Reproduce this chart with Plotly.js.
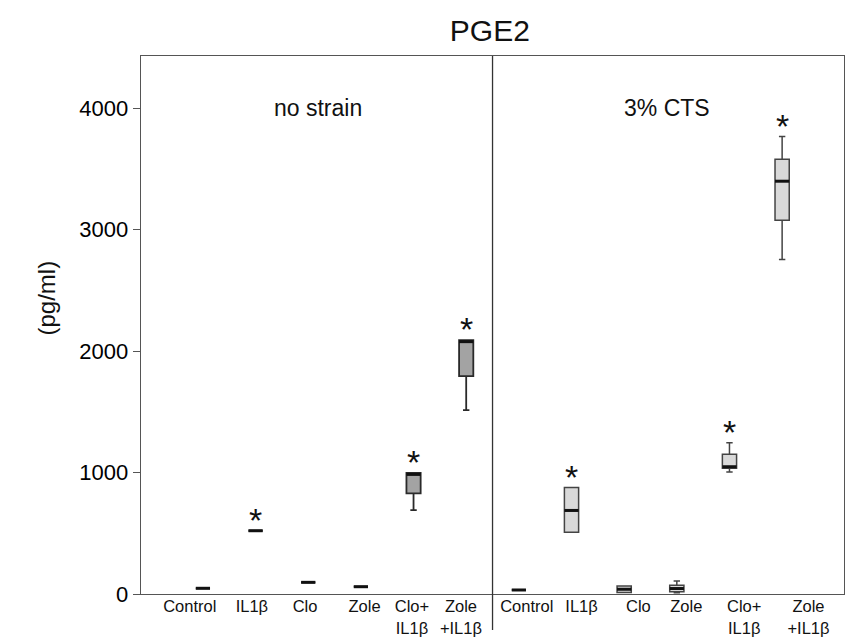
<!DOCTYPE html>
<html>
<head>
<meta charset="utf-8">
<script src="https://cdn.plot.ly/plotly-3.0.1.min.js"></script>
<style>html,body{margin:0;padding:0;background:#fff;}#chart{width:846px;height:640px;}</style>
</head>
<body>
<div id="chart"></div>
<script>
// ---- data ----
const categories = ["Control", "IL1β", "Clo", "Zole", "Clo+<br>IL1β", "Zole<br>+IL1β"];
const panels = ["no strain", "3% CTS"];

// no strain
const nsLower  = [47, 521, 96, 60, 691, 1514];
const nsQ1     = [47, 521, 96, 60, 829, 1794];
const nsMedian = [47, 521, 96, 60, 985, 2078];
const nsQ3     = [47, 521, 96, 60, 998, 2090];
const nsUpper  = [47, 521, 96, 60, 998, 2090];
const nsSig    = [false, true, false, false, true, true];

// 3% CTS
const ctsLower  = [33, 508, 12, 10, 1005, 2755];
const ctsQ1     = [33, 508, 12, 19, 1035, 3078];
const ctsMedian = [33, 688, 39, 45, 1048, 3399];
const ctsQ3     = [33, 876, 66, 72, 1150, 3580];
const ctsUpper  = [33, 876, 66, 107, 1245, 3767];
const ctsSig    = [false, true, false, false, true, true];

const yTicks = [0, 1000, 2000, 3000, 4000];

// ---- layout helpers ----
const nsPos = categories.map((c, i) => i + 1);
const ctsPos = categories.map((c, i) => i + 7);
const boxW = 0.27;
// label positions (slightly offset from boxes as in the original composite)
const labelPos = [0.75, 1.93, 2.94, 4.07, 4.97, 5.90, 7.15, 8.19, 9.27, 10.18, 11.28, 12.50];
const FONT = 'Liberation Sans, Arial, sans-serif';

function boxTrace(pos, lo, q1, med, q3, hi, fill, lc, lw) {
  return {
    type: 'box', x: pos, lowerfence: lo, q1: q1, median: med, q3: q3, upperfence: hi,
    width: boxW, whiskerwidth: 0.45, boxpoints: false,
    fillcolor: fill, line: {color: lc, width: lw},
    hoverinfo: 'skip', showlegend: false
  };
}
function medianTrace(pos, med) {
  const xs = [], ys = [];
  pos.forEach((p, i) => { xs.push(p - boxW / 2, p + boxW / 2, null); ys.push(med[i], med[i], null); });
  return {type: 'scatter', mode: 'lines', x: xs, y: ys, line: {color: '#111', width: 3},
          hoverinfo: 'skip', showlegend: false};
}

const traces = [
  boxTrace(nsPos, nsLower, nsQ1, nsMedian, nsQ3, nsUpper, '#a3a3a3', '#2a2a2a', 1.8),
  boxTrace(ctsPos, ctsLower, ctsQ1, ctsMedian, ctsQ3, ctsUpper, '#d9d9d9', '#444', 1.5),
  medianTrace(nsPos, nsMedian),
  medianTrace(ctsPos, ctsMedian)
];

const annotations = [];
function addStars(pos, hi, sig) {
  pos.forEach((p, i) => {
    if (sig[i]) annotations.push({x: p, y: hi[i], xref: 'x', yref: 'y', text: '*', showarrow: false,
      yanchor: 'bottom', yshift: -10, font: {family: FONT, size: 34, color: '#111'}});
  });
}
addStars(nsPos, nsUpper, nsSig);
addStars(ctsPos, ctsUpper, ctsSig);
annotations.push({x: 3.18, y: 4000, xref: 'x', yref: 'y', text: panels[0], showarrow: false,
  font: {family: FONT, size: 23, color: '#111'}});
annotations.push({x: 9.82, y: 4000, xref: 'x', yref: 'y', text: panels[1], showarrow: false,
  font: {family: FONT, size: 23, color: '#111'}});
// y-axis title
const L = 141, R = 2, T = 56, B = 46, W = 846, H = 640;
annotations.push({x: (30 - L) / (W - L - R), y: (H - B - 298) / (H - T - B), xref: 'paper', yref: 'paper',
  text: '(pg/ml)', showarrow: false, textangle: -90, font: {family: FONT, size: 24, color: '#111'}});

const layout = {
  width: W, height: H,
  margin: {l: L, r: R, t: T, b: B},
  paper_bgcolor: '#fff', plot_bgcolor: '#fff',
  font: {family: FONT, color: '#111'},
  title: {text: 'PGE2', x: 0.579, xanchor: 'center', y: 0.953, yanchor: 'middle',
          font: {family: FONT, size: 30, color: '#111'}},
  xaxis: {
    range: [-0.176, 13.175], tickvals: labelPos, ticktext: categories.concat(categories),
    ticks: '', showgrid: false, zeroline: false, showline: true, mirror: true,
    linecolor: '#555', linewidth: 1.3, tickfont: {size: 16.5, color: '#111'},
    ticklabelstandoff: -3
  },
  yaxis: {
    range: [0, 4430], tickvals: yTicks, ticktext: yTicks.map(String),
    ticks: 'outside', ticklen: 7, tickcolor: '#555', showgrid: false, zeroline: false,
    showline: true, mirror: true, linecolor: '#555', linewidth: 1.3,
    tickfont: {size: 22, color: '#000'}
  },
  shapes: [{type: 'line', xref: 'x', yref: 'paper', x0: 6.5, x1: 6.5, y0: -0.067, y1: 1,
            line: {color: '#333', width: 1.3}}],
  annotations: annotations
};

Plotly.newPlot('chart', traces, layout, {displayModeBar: false, staticPlot: true});
</script>
</body>
</html>
